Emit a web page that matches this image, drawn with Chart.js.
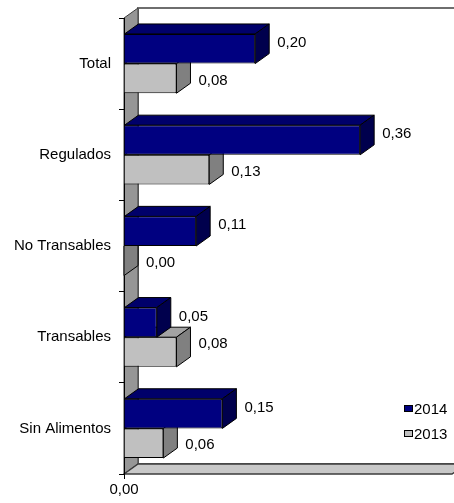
<!DOCTYPE html>
<html>
<head>
<meta charset="utf-8">
<script src="https://cdn.jsdelivr.net/npm/chart.js@4.4.1/dist/chart.umd.min.js"></script>
<style>
  html, body { margin: 0; padding: 0; background: #fff; }
  canvas { display: block; }
</style>
</head>
<body>
<canvas id="chart" width="454" height="503"></canvas>
<script>
const categories = ['Total', 'Regulados', 'No Transables', 'Transables', 'Sin Alimentos'];
const seriesLabels = ['2014', '2013'];
const values2014 = [0.20, 0.36, 0.11, 0.05, 0.15];
const values2013 = [0.08, 0.13, 0.00, 0.08, 0.06];
const xTicks = [0];

// 3d depth of the walls and bars
const DX = 14;
const DY = 10;
const FONT = '15px "Liberation Sans", Arial, sans-serif';

const faceColors = [
    { front: '#000080', top: '#00006a', side: '#00004d' },
    { front: '#c0c0c0', top: '#a3a3a3', side: '#808080' }
];

const fmt = (v) => v.toFixed(2).replace('.', ',');

function poly(ctx, pts, fill, stroke, lw) {
    ctx.beginPath();
    ctx.moveTo(pts[0][0], pts[0][1]);
    for (let i = 1; i < pts.length; i++) ctx.lineTo(pts[i][0], pts[i][1]);
    ctx.closePath();
    if (fill) { ctx.fillStyle = fill; ctx.fill(); }
    if (stroke) { ctx.strokeStyle = stroke; ctx.lineWidth = lw || 1; ctx.stroke(); }
}

const walls3d = {
    id: 'walls3d',
    beforeDraw(chart) {
        const { ctx, chartArea: a } = chart;
        ctx.save();
        // back wall
        poly(ctx, [[a.left + DX, a.top - DY], [a.right + DX, a.top - DY], [a.right + DX, a.bottom - DY], [a.left + DX, a.bottom - DY]], '#ffffff', '#6e6e6e', 2);
        // left wall
        poly(ctx, [[a.left, a.top], [a.left + DX, a.top - DY], [a.left + DX, a.bottom - DY], [a.left, a.bottom]], '#969696', '#3c3c3c', 1);
        // floor
        poly(ctx, [[a.left, a.bottom], [a.left + DX, a.bottom - DY], [a.right + DX, a.bottom - DY], [a.right, a.bottom]], '#c8c8c8', '#3c3c3c', 1.5);
        ctx.restore();
    }
};

const bars3d = {
    id: 'bars3d',
    afterDatasetDraw(chart, args) {
        const ctx = chart.ctx;
        const c = faceColors[args.index];
        ctx.save();
        args.meta.data.forEach(bar => {
            const p = bar.getProps(['x', 'y', 'base', 'height'], true);
            const top = p.y - p.height / 2;
            const bottom = p.y + p.height / 2;
            poly(ctx, [[p.base, top], [p.base + DX, top - DY], [p.x + DX, top - DY], [p.x, top]], c.top, '#000', 1);
            poly(ctx, [[p.x, top], [p.x + DX, top - DY], [p.x + DX, bottom - DY], [p.x, bottom]], c.side, '#000', 1);
        });
        ctx.restore();
    },
    afterDatasetsDraw(chart) {
        const ctx = chart.ctx;
        const front = chart.getDatasetMeta(0).data;
        ctx.save();
        ctx.font = FONT;
        ctx.fillStyle = '#000';
        ctx.textBaseline = 'middle';
        ctx.textAlign = 'left';
        chart.data.datasets.forEach((ds, i) => {
            chart.getDatasetMeta(i).data.forEach((bar, j) => {
                const tx = bar.x + DX + 8;
                let ty;
                if (i === 0) {
                    ty = bar.y - 6;
                } else {
                    // 2013 label drops below when the 2014 bar sits over it
                    const covered = front[j].x + DX > tx;
                    ty = covered ? bar.y + 2 : bar.y - 8;
                }
                ctx.fillText(fmt(ds.data[j]), tx, ty);
            });
        });
        ctx.restore();
    },
    afterDraw(chart) {
        // legend in the lower right corner
        const ctx = chart.ctx;
        ctx.save();
        ctx.font = FONT;
        ctx.textBaseline = 'middle';
        ctx.textAlign = 'left';
        chart.data.datasets.forEach((ds, i) => {
            const y = 409 + i * 25;
            ctx.fillStyle = ds.backgroundColor;
            ctx.fillRect(404.5, y - 3.5, 8, 6);
            ctx.strokeStyle = '#000';
            ctx.lineWidth = 1;
            ctx.strokeRect(404.5, y - 3.5, 8, 6);
            ctx.fillStyle = '#000';
            ctx.fillText(ds.label, 414, y + 1);
        });
        ctx.restore();
    }
};

Chart.defaults.font.family = '"Liberation Sans", Arial, sans-serif';
Chart.defaults.font.size = 15;
Chart.defaults.color = '#000';

new Chart(document.getElementById('chart'), {
    type: 'bar',
    data: {
        labels: categories,
        datasets: [
            { label: seriesLabels[0], data: values2014, backgroundColor: faceColors[0].front, borderColor: '#000', borderWidth: 1, categoryPercentage: 0.65, barPercentage: 1 },
            { label: seriesLabels[1], data: values2013, backgroundColor: faceColors[1].front, borderColor: '#000', borderWidth: 1, categoryPercentage: 0.65, barPercentage: 1 }
        ]
    },
    options: {
        indexAxis: 'y',
        responsive: false,
        animation: false,
        layout: { padding: { top: 18, right: 2, left: 0, bottom: 0 } },
        plugins: { legend: { display: false }, tooltip: { enabled: false } },
        scales: {
            x: {
                min: 0,
                max: 0.5,
                afterBuildTicks: (s) => { s.ticks = xTicks.map(v => ({ value: v })); },
                afterFit: (s) => { s.height = 29; },
                ticks: { callback: (v) => fmt(v), color: '#000', maxRotation: 0, padding: 2 },
                grid: { drawOnChartArea: false, tickLength: 5, color: '#000' },
                border: { display: false }
            },
            y: {
                afterFit: (s) => { s.width = 124; },
                ticks: { color: '#000', padding: 8 },
                grid: { offset: true, drawOnChartArea: false, tickLength: 5, color: '#000' },
                border: { display: true, color: '#000' }
            }
        }
    },
    plugins: [walls3d, bars3d]
});
</script>
</body>
</html>
